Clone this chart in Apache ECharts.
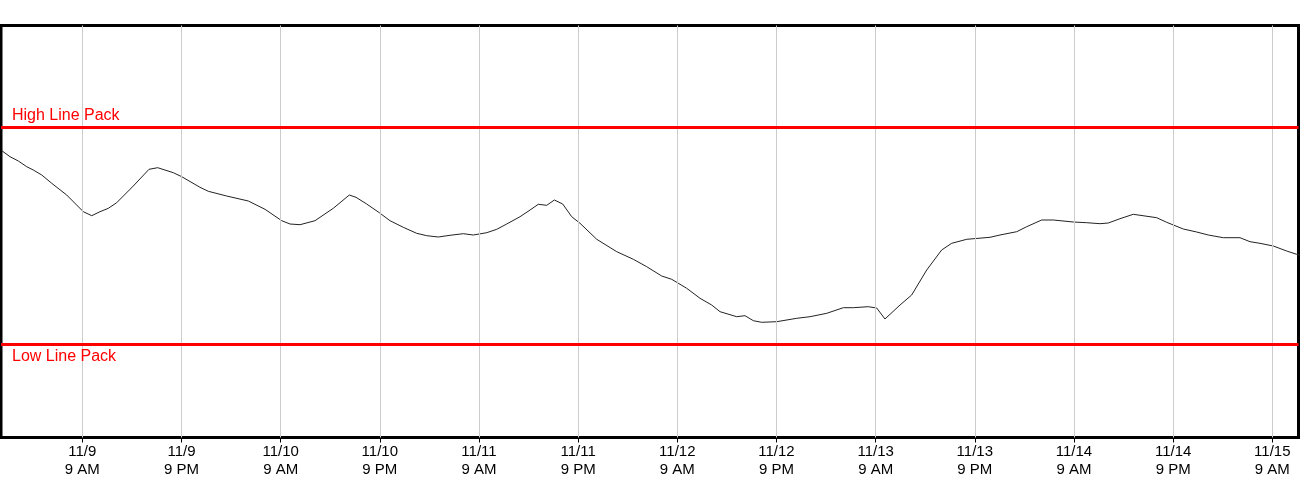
<!DOCTYPE html>
<html>
<head>
<meta charset="utf-8">
<script src="https://cdn.jsdelivr.net/npm/echarts@6/dist/echarts.min.js"></script>
<style>
html,body{margin:0;padding:0;background:#fff;}
#chart{width:1300px;height:500px;}
</style>
</head>
<body>
<div id="chart"></div>
<script>
// Hours since 11/9 00:00
const hours = [-0.75,0.25,1.26,2.27,3.07,4.09,5.30,7.11,9.12,10.14,11.14,12.15,13.16,15.17,17.07,18.12,20.01,21.03,23.24,24.25,26.47,29.09,31.11,33.13,34.13,35.34,37.16,39.37,41.31,42.12,43.41,44.94,46.23,47.84,49.46,50.68,52.08,53.49,55.10,56.31,57.94,59.15,60.36,61.97,63.18,64.18,65.20,66.12,67.13,68.22,69.23,71.25,73.67,75.68,77.30,79.11,80.32,82.14,83.75,85.16,86.17,88.19,89.19,90.20,91.21,93.03,95.45,97.06,99.08,101.09,102.30,104.11,105.13,106.13,107.95,109.36,111.18,112.99,114.20,116.02,118.84,120.05,122.07,123.28,125.09,126.50,128.92,130.54,132.15,133.15,134.57,136.18,139.01,140.22,142.23,143.85,145.25,147.07,149.09,150.30,151.51,153.12,154.74,155.95,156.3];
const linePack = [286.8,280.8,276.5,270.8,267.5,262.5,254.2,242.5,225.8,221.8,225.8,229.2,234.8,251.5,268.2,269.8,264.8,260.8,250.2,246.2,241.5,236.5,228.2,216.8,213.5,212.8,216.8,229.2,242.5,240.2,233.5,224.8,216.8,210.2,204.2,201.8,200.5,202.2,203.8,202.5,204.8,208.2,213.5,220.8,227.5,233.2,232.2,237.5,233.5,220.8,214.2,198.2,185.8,178.2,170.8,161.5,158.2,149.2,139.2,132.5,125.8,120.8,121.8,116.8,115.2,115.8,119.2,120.8,124.2,129.8,129.8,130.8,129.5,118.5,132.5,142.5,167.5,187.5,194.2,198.2,200.2,202.5,205.8,210.8,217.5,217.5,215.5,214.8,213.8,214.5,218.8,223.2,219.8,215.2,208.5,205.5,202.5,199.8,199.8,195.8,194.2,191.5,186.5,183.2,182.2];
const highLinePack = 310;
const lowLinePack = 93.5;
const tickHours = [9,21,33,45,57,69,81,93,105,117,129,141,153];
const tickDates = ['11/9','11/9','11/10','11/10','11/11','11/11','11/12','11/12','11/13','11/13','11/14','11/14','11/15'];
const tickTimes = ['9 AM','9 PM','9 AM','9 PM','9 AM','9 PM','9 AM','9 PM','9 AM','9 PM','9 AM','9 PM','9 AM'];

const chart = echarts.init(document.getElementById('chart'));
const font = "'Liberation Sans', Arial, sans-serif";
chart.setOption({
  animation: false,
  grid: {left: 1, right: 1.5, top: 25.5, bottom: 62.5, show: true, borderColor: '#000', borderWidth: 3, backgroundColor: 'transparent'},
  xAxis: {
    type: 'value', min: -0.84, max: 156.17,
    axisLine: {show: false},
    splitLine: {show: false},
    axisTick: {show: true, length: 5, lineStyle: {color: '#000', width: 1}, customValues: tickHours},
    axisLabel: {
      show: true, customValues: tickHours, margin: 5,
      fontFamily: font, fontSize: 15, lineHeight: 18, color: '#000',
      formatter: function (v) {
        let idx = 0, best = 1e9;
        tickHours.forEach((h, i) => { if (Math.abs(h - v) < best) { best = Math.abs(h - v); idx = i; } });
        return tickDates[idx] + '\n' + tickTimes[idx];
      }
    }
  },
  yAxis: {type: 'value', min: 0, max: 412, show: false, splitLine: {show: false}},
  series: [
    {
      type: 'line', data: [], z: 1, silent: true,
      markLine: {
        silent: true, symbol: 'none', animation: false,
        lineStyle: {color: '#cccccc', width: 1, type: 'solid'},
        label: {show: false},
        data: tickHours.map(h => ({xAxis: h}))
      }
    },
    {
      type: 'line', z: 3, symbol: 'none', smooth: false,
      lineStyle: {color: '#222', width: 1},
      data: hours.map((h, i) => [h, linePack[i]])
    },
    {
      type: 'line', data: [], z: 4, silent: true,
      markLine: {
        silent: true, symbol: 'none', animation: false,
        lineStyle: {color: '#ff0000', width: 3, type: 'solid'},
        data: [
          {yAxis: highLinePack, label: {show: true, formatter: 'High Line Pack', position: 'insideStartTop', distance: [11, 4], color: '#ff0000', fontFamily: font, fontSize: 16}},
          {yAxis: lowLinePack, label: {show: true, formatter: 'Low Line Pack', position: 'insideStartBottom', distance: [11, 5], color: '#ff0000', fontFamily: font, fontSize: 16}}
        ]
      }
    }
  ]
});
</script>
</body>
</html>
